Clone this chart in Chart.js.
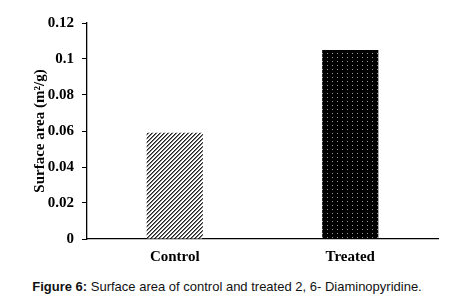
<!DOCTYPE html>
<html lang="en">
<head>
    <meta charset="UTF-8" />
    <title>Surface area</title>
    <script src="https://cdn.jsdelivr.net/npm/chart.js@4"></script>
    <style>
        body { margin: 0; background: #fff; width: 454px; height: 303px; overflow: hidden; position: relative; }
        #wrap { position: absolute; left: 0; top: 0; width: 454px; height: 270px; }
        #caption { position: absolute; left: 0; top: 279px; width: 454px; text-align: center;
                   font-family: 'Liberation Sans', Arial, sans-serif; font-size: 13px; color: #111; }
    </style>
</head>
<body>
    <div id="wrap"><canvas id="chart"></canvas></div>
    <div id="caption"><b>Figure 6:</b> Surface area of control and treated 2, 6- Diaminopyridine.</div>

    <script>
        const categories = ['Control', 'Treated'];
        const surfaceArea = [0.059, 0.105];
        const yTicks = [0, 0.02, 0.04, 0.06, 0.08, 0.1, 0.12];
        const yTickLabels = ['0', '0.02', '0.04', '0.06', '0.08', '0.1', '0.12'];

        // diagonal hatch for the control bar
        function hatchPattern() {
            const c = document.createElement('canvas');
            c.width = 4; c.height = 4;
            const g = c.getContext('2d');
            g.fillStyle = '#fff';
            g.fillRect(0, 0, 4, 4);
            for (let y = 0; y < 4; y++) {
                for (let x = 0; x < 4; x++) {
                    const k = (x + y) % 4;
                    if (k === 0) { g.fillStyle = '#222'; g.fillRect(x, y, 1, 1); }
                    if (k === 1) { g.fillStyle = '#777'; g.fillRect(x, y, 1, 1); }
                }
            }
            return g.createPattern(c, 'repeat');
        }

        // black with sparse light dots for the treated bar
        function dotPattern() {
            const c = document.createElement('canvas');
            c.width = 5; c.height = 4;
            const g = c.getContext('2d');
            g.fillStyle = '#000';
            g.fillRect(0, 0, 5, 4);
            g.fillStyle = '#999';
            g.fillRect(2, 1, 1, 1);
            return g.createPattern(c, 'repeat');
        }

        const serif = { family: "'Liberation Serif', 'Times New Roman', serif", size: 15, weight: 'bold' };

        new Chart(document.getElementById('chart'), {
            type: 'bar',
            data: {
                labels: categories,
                datasets: [{
                    data: surfaceArea,
                    backgroundColor: [hatchPattern(), dotPattern()],
                    borderWidth: 0,
                    categoryPercentage: 1,
                    barPercentage: 0.32
                }]
            },
            options: {
                responsive: true,
                maintainAspectRatio: false,
                animation: false,
                layout: { padding: { left: 27, right: 16, top: 23, bottom: 0 } },
                plugins: { legend: { display: false }, tooltip: { enabled: false } },
                scales: {
                    x: {
                        grid: { display: false, drawTicks: false },
                        border: { display: true, color: '#000', width: 1.3 },
                        ticks: { color: '#000', font: serif, padding: 9 },
                        afterFit: (s) => { s.height = 31; }
                    },
                    y: {
                        min: 0,
                        max: 0.12,
                        afterBuildTicks: (s) => { s.ticks = yTicks.map(v => ({ value: v })); },
                        grid: { drawOnChartArea: false, drawTicks: true, tickLength: 5, color: '#000', lineWidth: 1 },
                        border: { display: true, color: '#000', width: 1.3 },
                        ticks: {
                            color: '#000', font: serif, padding: 8,
                            callback: (v, i) => yTickLabels[i]
                        },
                        title: {
                            display: true,
                            text: 'Surface area (m²/g)',
                            color: '#000',
                            font: serif,
                            padding: { top: 4, bottom: 4 }
                        },
                        afterFit: (s) => { s.width = 60; }
                    }
                }
            }
        });
    </script>
</body>
</html>
